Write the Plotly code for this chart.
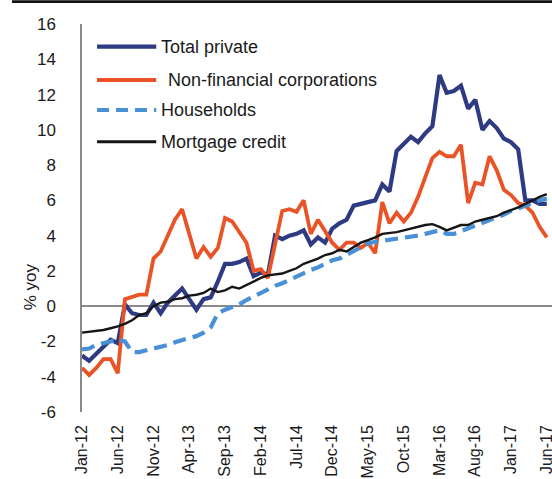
import plotly.graph_objects as go
import pandas as pd

# ---- data ----
months = list(pd.date_range("2012-01-01", "2017-06-01", freq="MS").strftime("%b-%y"))
tick_labels = months[::5]
y_ticks = list(range(-6, 17, 2))
y_ticktext = [str(v) for v in y_ticks]

series_names = ["Total private", "Non-financial corporations", "Households", "Mortgage credit"]

total_private = [
    -2.8, -3.1, -2.7, -2.3, -1.9, -2.1, 0.1, -0.4, -0.5, -0.5,
    0.2, -0.4, 0.2, 0.6, 1.0, 0.4, -0.2, 0.4, 0.5, 1.4,
    2.4, 2.4, 2.5, 2.7, 1.7, 1.9, 1.8, 4.0, 3.8, 4.0,
    4.1, 4.3, 3.5, 3.9, 3.6, 4.4, 4.7, 4.9, 5.7, 5.8,
    5.9, 6.0, 6.9, 6.5, 8.8, 9.2, 9.6, 9.3, 9.8, 10.2,
    13.1, 12.1, 12.2, 12.5, 11.2, 11.7, 10.0, 10.5, 10.1, 9.5,
    9.3, 8.9, 6.0, 6.0, 5.8, 5.8,
]
non_financial = [
    -3.5, -3.9, -3.5, -3.0, -3.0, -3.8, 0.4, 0.55, 0.65, 0.65,
    2.7, 3.1, 4.0, 4.9, 5.5, 4.1, 2.7, 3.35, 2.8, 3.3,
    5.0, 4.8, 4.2, 3.6, 2.0, 2.1, 1.6, 3.5, 5.4, 5.5,
    5.35, 6.0, 4.1, 4.9, 4.2, 3.6, 3.2, 3.6, 3.6, 3.3,
    3.6, 3.0, 5.9, 4.7, 5.3, 4.8, 5.3, 6.2, 7.3, 8.4,
    8.75, 8.5, 8.5, 9.15, 5.85, 7.0, 6.9, 8.5, 7.7, 6.6,
    6.3, 5.85, 5.7, 5.3, 4.5, 3.9,
]
households = [
    -2.45, -2.4, -2.2, -2.1, -2.0, -1.9, -2.0, -2.6, -2.6, -2.5,
    -2.45, -2.35, -2.2, -2.05, -1.9, -1.8, -1.7, -1.5, -1.2, -0.4,
    -0.2, -0.05, 0.1, 0.35, 0.55, 0.8, 1.0, 1.15, 1.3, 1.5,
    1.7, 1.85, 2.05, 2.2, 2.4, 2.6, 2.7, 2.9, 3.1, 3.3,
    3.55, 3.65, 3.7, 3.75, 3.8, 3.85, 3.9, 4.0, 4.1, 4.2,
    4.3, 4.1, 4.1, 4.25, 4.4, 4.55, 4.7, 4.85, 5.0, 5.2,
    5.4, 5.55, 5.75, 5.9, 6.0, 6.1,
]
mortgage = [
    -1.5, -1.45, -1.4, -1.35, -1.25, -1.15, -1.0, -0.8, -0.5, -0.4,
    0.0, 0.2, 0.25, 0.4, 0.45, 0.6, 0.65, 0.75, 1.0, 0.8,
    0.9, 1.1, 1.0, 1.2, 1.4, 1.6, 1.75, 1.8, 1.85, 2.0,
    2.15, 2.4, 2.55, 2.7, 2.9, 3.0, 3.2, 3.1, 3.35, 3.6,
    3.75, 3.9, 4.1, 4.15, 4.2, 4.3, 4.4, 4.5, 4.6, 4.65,
    4.5, 4.3, 4.45, 4.6, 4.6, 4.8, 4.9, 5.0, 5.1, 5.3,
    5.45, 5.6, 5.8, 6.0, 6.2, 6.35,
]

# ---- styles ----
FONT = "Arial, Liberation Sans, sans-serif"
TXT = "#1a1a1a"
styles = [
    dict(color="#2E3B82", width=4.2, dash="solid"),
    dict(color="#EA5325", width=3.8, dash="solid"),
    dict(color="#4A90D6", width=4.2, dash="13px,7px"),
    dict(color="#151515", width=2.4, dash="solid"),
]
all_series = [total_private, non_financial, households, mortgage]

fig = go.Figure()
for name, vals, st in zip(series_names, all_series, styles):
    fig.add_trace(go.Scatter(
        x=months, y=vals, mode="lines", name=name, showlegend=False,
        line=dict(color=st["color"], width=st["width"], dash=st["dash"]),
    ))

# custom legend (long line samples like the original)
leg_y = [0.9415, 0.8557, 0.7784, 0.6966]
for i, (name, st) in enumerate(zip(series_names, styles)):
    fig.add_shape(type="line", xref="paper", yref="paper",
                  x0=0.032, x1=0.158, y0=leg_y[i], y1=leg_y[i],
                  line=dict(color=st["color"], width=st["width"] + (0.6 if i == 3 else 0),
                            dash=("12px,7px" if i == 2 else "solid")))
    fig.add_annotation(xref="paper", yref="paper", x=(0.178 if i == 1 else 0.163), y=leg_y[i],
                       text=name, showarrow=False, xanchor="left", yanchor="middle",
                       font=dict(family=FONT, size=18, color=TXT))

# thin black rule along the top
fig.add_shape(type="rect", xref="paper", yref="paper", x0=-0.149, x1=1.0, y0=1.054, y1=1.061,
              fillcolor="#111111", line=dict(width=0), layer="above")

# y-axis title
fig.add_annotation(xref="paper", yref="paper", x=-0.11, y=0.322, text="% yoy",
                   textangle=-90, showarrow=False, xanchor="center", yanchor="middle",
                   font=dict(family=FONT, size=17, color=TXT))

fig.update_layout(
    width=552, height=479,
    margin=dict(l=82, r=0, t=24, b=67, autoexpand=False),
    paper_bgcolor="white", plot_bgcolor="white",
    font=dict(family=FONT, size=17, color=TXT),
    showlegend=False,
)
fig.update_xaxes(
    type="category", range=[0, 65.73], automargin=False,
    tickmode="array", tickvals=tick_labels, ticktext=tick_labels,
    tickangle=-90, tickfont=dict(family=FONT, size=16, color=TXT),
    showgrid=False, showline=False, zeroline=False, ticks="",
    ticklabelstandoff=9,
)
fig.update_yaxes(
    range=[-6, 16], tickmode="array", tickvals=y_ticks, ticktext=y_ticktext,
    automargin=False,
    tickfont=dict(family=FONT, size=17, color=TXT),
    showgrid=False, showline=True, linecolor="#8a8a8a", linewidth=1.5,
    zeroline=True, zerolinecolor="#8a8a8a", zerolinewidth=1.5,
    ticks="", ticklabelstandoff=21,
)

post = (
    "document.body.style.margin='0';"
    "document.body.style.overflow='hidden';"
)
fig.write_html("out.html", config={"displayModeBar": False}, post_script=post)
